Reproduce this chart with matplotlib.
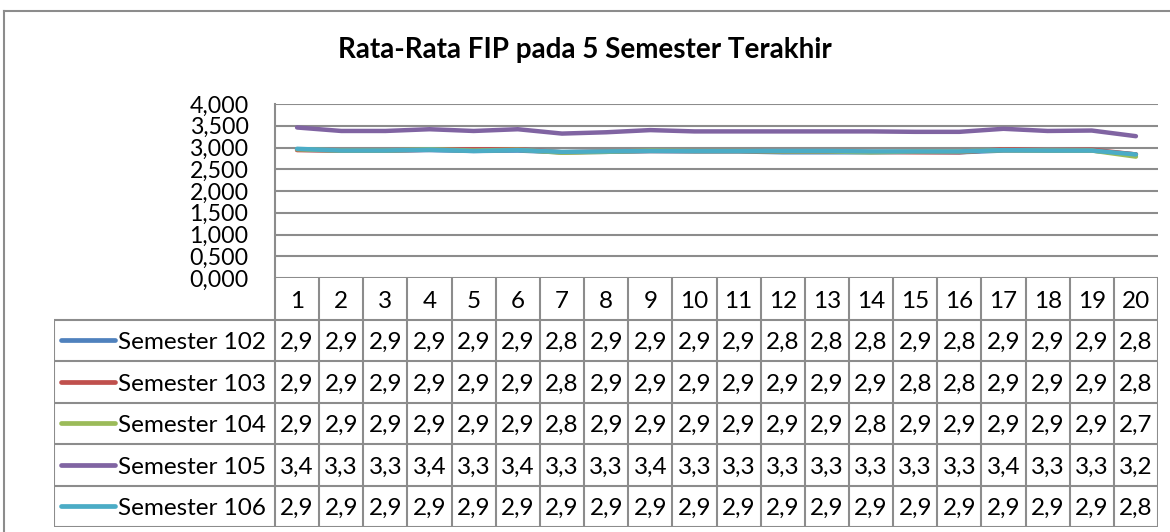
import numpy as np
import matplotlib.pyplot as plt
from matplotlib.lines import Line2D
from matplotlib.ticker import FuncFormatter, MultipleLocator

plt.rcParams['font.family'] = ['Lato', 'DejaVu Sans']

# data (lines) -- table shows them cut to 1 decimal
periods = list(range(1, 21))
names = ['Semester 102', 'Semester 103', 'Semester 104', 'Semester 105', 'Semester 106']
sem102 = [2.95, 2.93, 2.93, 2.94, 2.92, 2.93, 2.89, 2.90, 2.92, 2.91,
          2.91, 2.89, 2.89, 2.89, 2.90, 2.89, 2.93, 2.93, 2.93, 2.84]
sem103 = [2.94, 2.93, 2.93, 2.95, 2.96, 2.96, 2.89, 2.91, 2.92, 2.92,
          2.92, 2.91, 2.91, 2.90, 2.89, 2.89, 2.96, 2.94, 2.95, 2.84]
sem104 = [2.96, 2.93, 2.93, 2.96, 2.93, 2.95, 2.88, 2.90, 2.93, 2.92,
          2.92, 2.91, 2.91, 2.89, 2.91, 2.91, 2.94, 2.93, 2.93, 2.79]
sem105 = [3.46, 3.38, 3.38, 3.42, 3.38, 3.42, 3.32, 3.35, 3.40, 3.37,
          3.37, 3.37, 3.37, 3.37, 3.36, 3.36, 3.43, 3.38, 3.39, 3.26]
sem106 = [2.97, 2.93, 2.93, 2.95, 2.92, 2.94, 2.90, 2.91, 2.92, 2.92,
          2.92, 2.92, 2.92, 2.91, 2.91, 2.91, 2.94, 2.93, 2.93, 2.84]
series = [sem102, sem103, sem104, sem105, sem106]
colors = ['#4F81BD', '#C0504D', '#9BBB59', '#8064A2', '#4BACC6']
title = 'Rata-Rata FIP pada 5 Semester Terakhir'

W, H = 1170, 532
grid_c = '#8c8c8c'
fs = 17.5
dy = 0.06  # nudge table text down a bit


def box(l, t, r, b):
    return [l / W, 1 - b / H, (r - l) / W, (b - t) / H]


def fmt(v):
    return f'{np.floor(v * 10 + 1e-6) / 10:.1f}'.replace('.', ',')


fig = plt.figure(figsize=(W / 100, H / 100), dpi=100)

# chart area border (right/bottom edges are cut off in the original)
fig.add_artist(Line2D([4 / W, 4 / W], [0, 1 - 11 / H], color=grid_c, lw=1.5))
fig.add_artist(Line2D([4 / W, 1], [1 - 11 / H, 1 - 11 / H], color=grid_c, lw=1.5))

fig.text(585 / W, 1 - 58 / H, title, ha='center', va='baseline',
         fontsize=20, fontweight='bold')

# line plot
ax = fig.add_axes(box(275, 104, 1158, 278))
for vals, c in zip(series, colors):
    ax.plot(periods, vals, color=c, lw=3.2, solid_capstyle='round', zorder=3)
ax.set_xlim(0.5, 20.5)
ax.set_ylim(0, 4)
ax.yaxis.set_major_locator(MultipleLocator(0.5))
ax.yaxis.set_major_formatter(FuncFormatter(lambda v, p: f'{v:.3f}'.replace('.', ',')))
ax.grid(axis='y', color=grid_c, lw=1.5)
ax.set_axisbelow(True)
ax.set_xticks([])
for s in ['top', 'right', 'bottom']:
    ax.spines[s].set_visible(False)
ax.spines['left'].set_color(grid_c)
ax.spines['left'].set_linewidth(1.5)
ax.tick_params(axis='y', length=0, pad=19, labelsize=16.7)
ax.patch.set_alpha(0)

# data table under the plot
col_w = 883 / 20
x0 = 0.5 - (275 - 54) / col_w
tab = fig.add_axes(box(54, 278, 1158, 527))
tab.set_xlim(x0, 20.5)
tab.set_ylim(6, 0)
tab.axis('off')
tab.vlines(np.arange(0.5, 21), 0, 6, color=grid_c, lw=1.5)
tab.vlines(x0, 1, 6, color=grid_c, lw=1.5)
tab.hlines(np.arange(1, 7), x0, 20.5, color=grid_c, lw=1.5)

tw = 1158 - 54
for p in periods:
    tab.text(p, 0.5 + dy, str(p), ha='center', va='center', fontsize=fs)
for r, (name, vals, c) in enumerate(zip(names, series, colors), start=1):
    yc = r + 0.5
    tab.plot([(61 - 54) / tw, (115 - 54) / tw], [1 - yc / 6, 1 - yc / 6],
             transform=tab.transAxes, color=c, lw=3.4, solid_capstyle='round')
    tab.text((118 - 54) / tw, 1 - (yc + dy) / 6, name, transform=tab.transAxes,
             ha='left', va='center', fontsize=fs)
    for p, v in zip(periods, vals):
        tab.text(p, yc + dy, fmt(v), ha='center', va='center', fontsize=fs)

fig.savefig('out.png', dpi=100)
